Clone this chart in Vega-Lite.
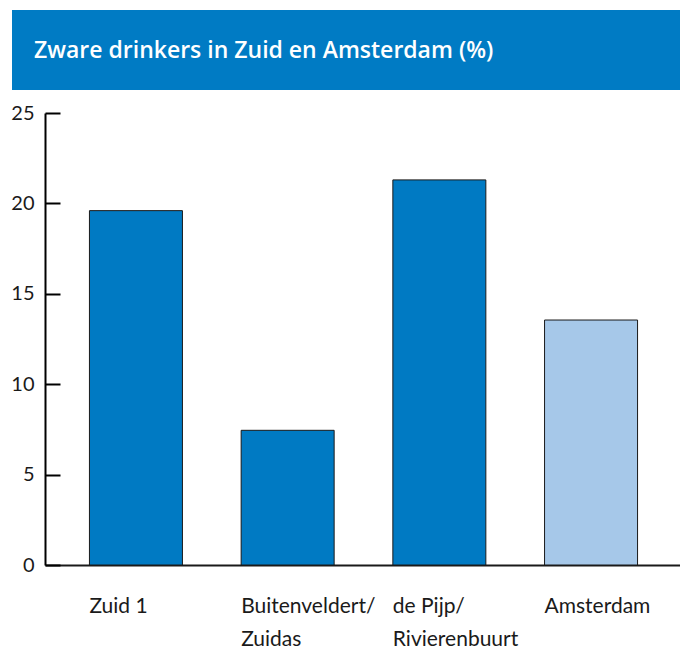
{
  "$schema": "https://vega.github.io/schema/vega-lite/v6.json",
  "padding": {"left": 10, "top": 10, "right": 0, "bottom": 0},
  "background": "white",
  "spacing": 13,
  "config": {"font": "Lato", "view": {"stroke": null}},
  "vconcat": [
    {
      "width": 670,
      "height": 80,
      "view": {"stroke": null, "fill": "#007BC4"},
      "title": {
        "text": "Zware drinkers in Zuid en Amsterdam (%)",
        "anchor": "start",
        "orient": "top",
        "frame": "group",
        "offset": -48,
        "dx": 22,
        "dy": 23,
        "baseline": "alphabetic",
        "color": "white",
        "fontSize": 23,
        "fontWeight": 600,
        "font": "Open Sans"
      },
      "data": {"values": [{"band": "header"}]},
      "mark": {"type": "rect", "color": "#007BC4"},
      "encoding": {}
    },
    {
      "width": 670,
      "height": 452,
      "data": {
        "values": [
          {"gebied": "Zuid 1", "waarde": 19.6, "groep": "Zuid"},
          {"gebied": "Buitenveldert/|Zuidas", "waarde": 7.45, "groep": "Zuid"},
          {"gebied": "de Pijp/|Rivierenbuurt", "waarde": 21.3, "groep": "Zuid"},
          {"gebied": "Amsterdam", "waarde": 13.55, "groep": "Amsterdam"}
        ]
      },
      "mark": {"type": "bar", "stroke": "#1a1a1a", "strokeWidth": 1},
      "encoding": {
        "x": {
          "field": "gebied",
          "type": "nominal",
          "sort": null,
          "scale": {"range": [33, 670], "paddingInner": 0.387, "paddingOuter": 0.293},
          "axis": {
            "title": null,
            "labelAngle": 0,
            "labelAlign": "left",
            "labelOffset": -46.5,
            "labelBaseline": "alphabetic",
            "labelPadding": 47,
            "labelLineHeight": 33,
            "labelFontSize": 21,
            "labelColor": "#1a1a1a",
            "labelOverlap": false,
            "labelExpr": "split(datum.label, '|')",
            "ticks": false,
            "domainColor": "#1a1a1a",
            "domainWidth": 2
          }
        },
        "y": {
          "field": "waarde",
          "type": "quantitative",
          "scale": {"domain": [0, 25], "nice": false},
          "axis": {
            "title": null,
            "offset": -33,
            "values": [0, 5, 10, 15, 20, 25],
            "grid": false,
            "domainColor": "#000000",
            "domainWidth": 2,
            "tickColor": "#000000",
            "tickWidth": 2,
            "tickSize": -15,
            "labelPadding": 26,
            "labelFontSize": 20,
            "labelColor": "#1a1a1a"
          }
        },
        "color": {
          "field": "groep",
          "type": "nominal",
          "scale": {"domain": ["Zuid", "Amsterdam"], "range": ["#007AC3", "#A6C8E9"]},
          "legend": null
        }
      }
    }
  ]
}
